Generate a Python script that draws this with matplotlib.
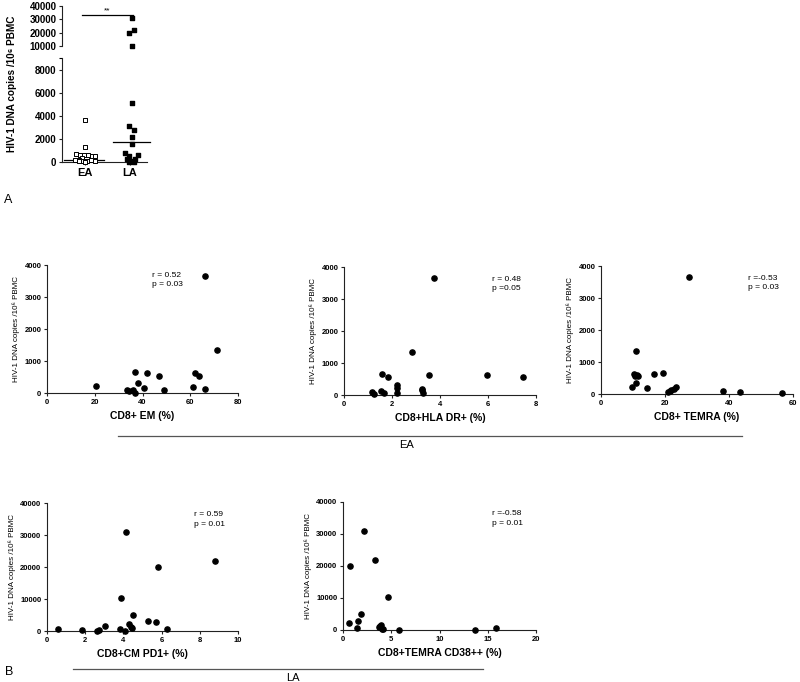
import numpy as np
import matplotlib
matplotlib.use("Agg")
import matplotlib.pyplot as plt
from matplotlib.lines import Line2D

plt.rcParams['font.family'] = ['Liberation Sans', 'DejaVu Sans']

# panel A: HIV-1 DNA per group
ea_dna = [3650, 1340, 650, 640, 640, 640, 550, 540, 320, 210, 200, 170, 120, 80, 80, 60, 10]
la_dna = [31000, 22000, 20000, 10300, 5100, 3100, 2800, 2200, 1600, 800, 600, 500, 300, 300, 100, 0, 0]
ea_median = 200
la_median = 1700
# horizontal spread of the dot plot (pixels)
ea_jitter = [0, 0, -9, -5, -1, 3, 7, 10, -3, -10, -6, 6, 10, -2, 2, -6, 0]
la_jitter = [2, 4, -1, 2, 2, -1, 4, 2, 2, -5, 8, -1, 5, -3, 1, -1, 4]

# panel B: early (EA)
em_x = [20.5, 33.5, 34.5, 36, 37, 37, 38.3, 40.7, 42, 47, 49, 61, 62, 63.5, 66, 66, 71.3]
em_y = [210, 80, 60, 80, 10, 650, 320, 170, 640, 540, 80, 200, 640, 540, 3650, 120, 1340]
hla_x = [1.15, 1.25, 1.55, 1.6, 1.65, 1.85, 2.2, 2.2, 2.2, 2.85, 3.25, 3.25, 3.3, 3.55, 3.75, 5.95, 7.45]
hla_y = [100, 20, 120, 650, 70, 550, 320, 220, 50, 1340, 200, 150, 60, 640, 3650, 640, 550]
temra_x = [9.7, 10.3, 10.5, 10.9, 11, 11.2, 11.7, 14.3, 16.5, 19.3, 21, 21.5, 22, 22.7, 23.3, 27.5, 38, 43.5, 56.5]
temra_y = [220, 640, 560, 1340, 330, 600, 550, 180, 640, 650, 70, 80, 120, 170, 210, 3650, 100, 70, 20]

# panel B: late (LA)
pd1_x = [0.55, 1.85, 2.6, 2.7, 3.05, 3.8, 3.85, 4.15, 4.1, 4.3, 4.4, 4.45, 4.5, 5.3, 5.7, 5.8, 6.3, 8.8]
pd1_y = [550, 300, 100, 300, 1600, 500, 10300, 30900, 0, 2200, 1200, 800, 5100, 3100, 2800, 20000, 700, 21800]
cd38_x = [0.65, 0.75, 1.45, 1.55, 1.9, 2.2, 3.3, 3.7, 3.8, 3.9, 4.0, 4.1, 4.7, 5.8, 13.7, 15.9]
cd38_y = [2300, 20000, 600, 2900, 5000, 30900, 21800, 800, 1200, 1600, 300, 300, 10300, 0, 0, 500]

ylab = 'HIV-1 DNA copies /10⁶ PBMC'

W, H = 800, 682
fig = plt.figure(figsize=(8, 6.82), dpi=100)


def box(x0, y0, x1, y1):
    # pixel box (top-left origin) -> figure fraction
    return [x0 / W, 1 - y1 / H, (x1 - x0) / W, (y1 - y0) / H]


def style(ax):
    for s in ['top', 'right']:
        ax.spines[s].set_visible(False)
    for s in ['left', 'bottom']:
        ax.spines[s].set_linewidth(0.8)
        ax.spines[s].set_color('#222222')
    ax.tick_params(length=2.5, width=0.8, color='#222222', pad=1.5)


# ---------- panel A (broken axis) ----------
axA_lo = fig.add_axes(box(62, 58, 147, 162))
axA_hi = fig.add_axes(box(62, 6, 147, 46))
ea = np.array(ea_dna)
la = np.array(la_dna)
xea = 1 + np.array(ea_jitter) / 45
xla = 2 + np.array(la_jitter) / 45
for ax, lo, hi in ((axA_lo, -1, 9000), (axA_hi, 9000, 50000)):
    style(ax)
    m1 = (ea > lo) & (ea <= hi)
    m2 = (la > lo) & (la <= hi)
    ax.scatter(xea[m1], ea[m1], marker='s', s=9, facecolors='white', edgecolors='black',
               linewidths=0.7, clip_on=False, zorder=3)
    ax.scatter(xla[m2], la[m2], marker='s', s=9, color='black', clip_on=False, zorder=3)
    ax.set_xlim(0.49, 2.38)
axA_lo.plot([0.53, 1.42], [ea_median, ea_median], color='black', lw=0.9)
axA_lo.plot([1.62, 2.44], [la_median, la_median], color='black', lw=0.9, clip_on=False)
axA_lo.set_ylim(0, 9000)
axA_lo.set_yticks([0, 2000, 4000, 6000, 8000])
axA_lo.set_yticks([9000], minor=True)
axA_lo.tick_params(which='minor', length=2.5, width=0.8)
axA_lo.set_xticks([1, 2])
axA_lo.set_xticklabels(['EA', 'LA'], fontsize=8, fontweight='bold')
axA_lo.tick_params(axis='y', labelsize=7)
axA_hi.set_ylim(10000, 40000)
axA_hi.set_yticks([10000, 20000, 30000, 40000])
axA_hi.tick_params(axis='y', labelsize=7)
axA_hi.spines['bottom'].set_visible(False)
axA_hi.set_xticks([])
for ax in (axA_lo, axA_hi):
    for t in ax.get_yticklabels():
        t.set_fontweight('bold')
axA_hi.plot([0.93, 2.07], [33250, 33250], color='black', lw=0.9)
axA_hi.text(1.5, 33600, '**', ha='center', va='bottom', fontsize=6)
fig.text(12 / W, 1 - 84 / H, ylab, rotation=90, ha='center', va='center',
         fontsize=7.2, fontweight='bold')
fig.text(8 / W, 1 - 200 / H, 'A', ha='center', va='center', fontsize=9)


# ---------- panel B scatter plots ----------
def scatter_panel(rect, x, y, xlim, ylim, xticks, yticks, xlabel, r_txt, p_txt, tx, ty):
    ax = fig.add_axes(rect)
    style(ax)
    ax.scatter(x, y, s=14, color='black', clip_on=False, zorder=3)
    ax.set_xlim(*xlim)
    ax.set_ylim(*ylim)
    ax.set_xticks(xticks)
    ax.set_yticks(yticks)
    ax.tick_params(labelsize=5.5)
    for t in ax.get_xticklabels() + ax.get_yticklabels():
        t.set_fontweight('bold')
    ax.set_xlabel(xlabel, fontsize=7.5, fontweight='bold', labelpad=4)
    ax.set_ylabel(ylab, fontsize=5.8, labelpad=3)
    ax.text(tx, ty, r_txt, transform=ax.transAxes, fontsize=6, va='center')
    ax.text(tx, ty - 0.075, p_txt, transform=ax.transAxes, fontsize=6, va='center')
    return ax


scatter_panel(box(47, 265, 238, 393), em_x, em_y, (0, 80), (0, 4000),
              [0, 20, 40, 60, 80], [0, 1000, 2000, 3000, 4000],
              'CD8+ EM (%)', 'r = 0.52', 'p = 0.03', 0.55, 0.92)
scatter_panel(box(344, 267, 536, 395), hla_x, hla_y, (0, 8), (0, 4000),
              [0, 2, 4, 6, 8], [0, 1000, 2000, 3000, 4000],
              'CD8+HLA DR+ (%)', 'r = 0.48', 'p =0.05', 0.77, 0.905)
scatter_panel(box(601, 266, 793, 394), temra_x, temra_y, (0, 60), (0, 4000),
              [0, 20, 40, 60], [0, 1000, 2000, 3000, 4000],
              'CD8+ TEMRA (%)', 'r =-0.53', 'p = 0.03', 0.765, 0.905)
scatter_panel(box(47, 503, 238, 631), pd1_x, pd1_y, (0, 10), (0, 40000),
              [0, 2, 4, 6, 8, 10], [0, 10000, 20000, 30000, 40000],
              'CD8+CM PD1+ (%)', 'r = 0.59', 'p = 0.01', 0.77, 0.91)
scatter_panel(box(343, 502, 536, 630), cd38_x, cd38_y, (0, 20), (0, 40000),
              [0, 5, 10, 15, 20], [0, 10000, 20000, 30000, 40000],
              'CD8+TEMRA CD38++ (%)', 'r =-0.58', 'p = 0.01', 0.77, 0.91)

# group bars
fig.add_artist(Line2D([118 / W, 742 / W], [1 - 436 / H, 1 - 436 / H], color='#555555', lw=0.9))
fig.text(407 / W, 1 - 445 / H, 'EA', ha='center', va='center', fontsize=8)
fig.add_artist(Line2D([73 / W, 483 / W], [1 - 669 / H, 1 - 669 / H], color='#555555', lw=0.9))
fig.text(293 / W, 1 - 678 / H, 'LA', ha='center', va='center', fontsize=8)
fig.text(9 / W, 1 - 672 / H, 'B', ha='center', va='center', fontsize=9)

fig.savefig('out.png', dpi=100)
